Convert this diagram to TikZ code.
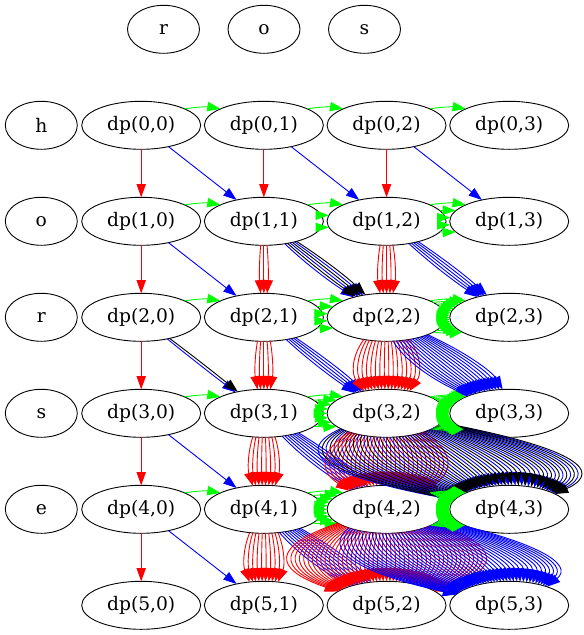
\documentclass[tikz,border=0pt]{standalone}
\usepackage{fontspec}
\setmainfont{DejaVu Serif}
\usetikzlibrary{arrows.meta,calc,shapes.geometric}
\definecolor{gvred}{RGB}{255,0,0}
\definecolor{gvgreen}{RGB}{0,255,0}
\definecolor{gvblue}{RGB}{0,0,255}
\newcount\bisecti
% find s where the curve P(s)=s*(L)+3s(1-s)*(d) leaves the tail ellipse (a=59.5,b=24)
\newcommand\solveS[4]{%
  \def\slo{0}\def\shi{0.5}%
  \bisecti=0
  \loop
    \pgfmathsetmacro\smid{(\slo+\shi)/2}%
    \pgfmathsetmacro\tmpa{(\smid*(#1)+3*\smid*(1-\smid)*(#3))/59.5}%
    \pgfmathsetmacro\tmpb{(\smid*(#2)+3*\smid*(1-\smid)*(#4))/24}%
    \pgfmathsetmacro\fval{\tmpa*\tmpa+\tmpb*\tmpb-1}%
    \ifdim\fval pt<0pt \let\slo\smid \else \let\shi\smid \fi
    \advance\bisecti by 1
  \ifnum\bisecti<10 \repeat
  \pgfmathsetmacro\sres{(\slo+\shi)/2}%
}
% tail node, Lx, Ly, dx, dy, colour
\newcommand\gvedge[6]{%
  \solveS{#2}{#3}{#4}{#5}\let\sA\sres
  \solveS{#2}{#3}{-(#4)}{-(#5)}%
  \pgfmathsetmacro\sB{1-\sres}%
  \pgfmathsetmacro\hh{(\sB-\sA)/3}%
  \pgfmathsetmacro\qa{3*\sA*(1-\sA)}%
  \pgfmathsetmacro\qb{3*\sB*(1-\sB)}%
  \pgfmathsetmacro\pax{\sA*(#2)+\qa*(#4)}%
  \pgfmathsetmacro\pay{\sA*(#3)+\qa*(#5)}%
  \pgfmathsetmacro\pbx{\sB*(#2)+\qb*(#4)}%
  \pgfmathsetmacro\pby{\sB*(#3)+\qb*(#5)}%
  \pgfmathsetmacro\cax{\pax+\hh*((#2)+3*(1-2*\sA)*(#4))}%
  \pgfmathsetmacro\cay{\pay+\hh*((#3)+3*(1-2*\sA)*(#5))}%
  \pgfmathsetmacro\cbx{\pbx-\hh*((#2)+3*(1-2*\sB)*(#4))}%
  \pgfmathsetmacro\cby{\pby-\hh*((#3)+3*(1-2*\sB)*(#5))}%
  \draw[gvline,#6] ($(#1.center)+(\pax,\pay)$) .. controls ($(#1.center)+(\cax,\cay)$) and ($(#1.center)+(\cbx,\cby)$) .. ($(#1.center)+(\pbx,\pby)$);
}
\begin{document}
\begin{tikzpicture}[x=1pt,y=-1pt,
  gvline/.style={line width=0.9pt,-{Triangle[length=13.3pt,width=9.3pt]}},
  dpn/.style={ellipse,draw,line width=0.9pt,minimum width=119pt,minimum height=48pt,inner sep=0pt,font=\fontsize{18.67}{22}\selectfont},
  lab/.style={ellipse,draw,line width=0.9pt,minimum width=72pt,minimum height=48pt,inner sep=0pt,font=\fontsize{18.67}{22}\selectfont}]
\useasboundingbox (0,0) rectangle (584,635);
\node[lab] (tr) at (163.5,29.3) {r};
\node[lab] (to) at (264,29.3) {o};
\node[lab] (ts) at (364.5,29.3) {s};
\foreach \c [count=\i from 0] in {h,o,r,s,e}
  \node[lab] (l\i) at (41.3,{125.3+96*\i}) {\c};
\foreach \i in {0,...,5}
  \foreach \j in {0,...,3}
    \node[dpn] (d\i\j) at ({141.2+122.67*\j},{125.3+96*\i}) {dp(\i,\j)};
\foreach \i/\j/\nn/\mt in {0/0/1/0, 0/1/1/0, 0/2/1/0, 1/0/1/0, 1/1/3/1, 1/2/5/0, 2/0/1/1, 2/1/5/0, 2/2/16/0, 3/0/1/0, 3/1/8/0, 3/2/29/1, 4/0/1/0, 4/1/10/0, 4/2/47/0} {
  \foreach \k in {1,...,\nn} {
    \pgfmathsetmacro\dlt{((\nn-1)/2-(\k-1))*5.7}
    \gvedge{d\i\j}{0}{96}{\dlt}{0}{gvred}
    \pgfmathsetmacro\gdy{-24+48*(\k-1)/\nn}
    \gvedge{d\i\j}{122.67}{0}{0}{\gdy}{gvgreen}
    \ifnum\mt=1
      \pgfmathsetmacro\dlt{((2*\nn-1)/2-(2*\k-1))*5.7}
      \gvedge{d\i\j}{122.67}{96}{\dlt}{0}{gvblue}
      \pgfmathsetmacro\dlt{((2*\nn-1)/2-(2*\k-2))*5.7}
      \gvedge{d\i\j}{122.67}{96}{\dlt}{0}{black}
    \else
      \gvedge{d\i\j}{122.67}{96}{\dlt}{0}{gvblue}
    \fi
  }
}
\end{tikzpicture}
\end{document}
